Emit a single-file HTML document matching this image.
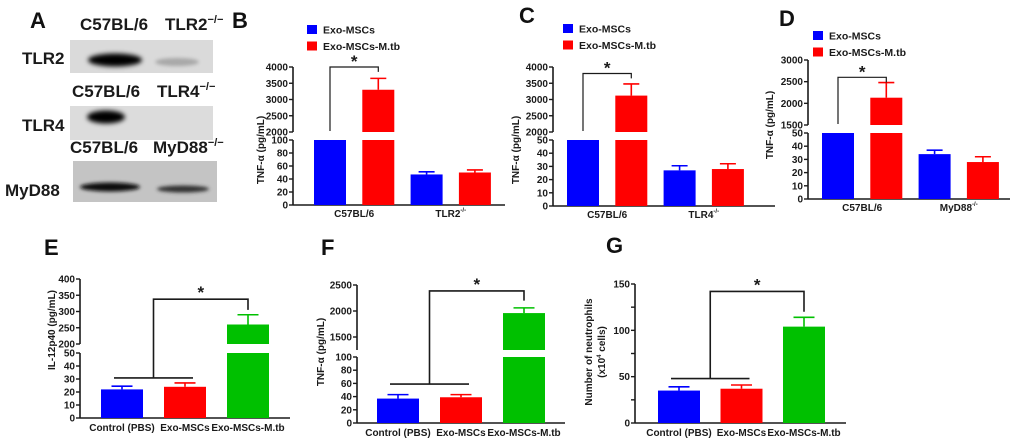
<!DOCTYPE html>
<html><head><meta charset="utf-8"><style>
html,body{margin:0;padding:0;background:#fff;}
svg{display:block;font-family:"Liberation Sans",Arial,sans-serif;}
.tk{font-size:10px;font-weight:bold;fill:#1a1a1a;}
.lg{font-size:10.5px;font-weight:bold;fill:#1a1a1a;}
.pl{font-size:22px;font-weight:bold;fill:#111;}
.bl{font-size:17px;font-weight:bold;fill:#1a1a1a;}
</style></head><body>
<svg id="fig" width="1020" height="446" viewBox="0 0 1020 446" xmlns="http://www.w3.org/2000/svg">
<defs>
<filter id="blur3" x="-30%" y="-80%" width="160%" height="260%"><feGaussianBlur stdDeviation="2.5"/></filter>
<filter id="blur2" x="-30%" y="-80%" width="160%" height="260%"><feGaussianBlur stdDeviation="1.8"/></filter>
</defs>
<g>
<text class="pl" x="30" y="28">A</text>
<text class="bl" x="80" y="30">C57BL/6</text>
<text class="bl" x="165" y="30">TLR2<tspan font-size="11" dy="-7">−/−</tspan></text>
<text class="bl" x="22" y="64">TLR2</text>
<rect x="70" y="40" width="143" height="33" fill="#dadada"/>
<ellipse cx="115" cy="60" rx="27" ry="6.5" fill="#000" filter="url(#blur3)"/>
<ellipse cx="177" cy="62" rx="22" ry="4" fill="#a8a8a8" filter="url(#blur2)"/>
<text class="bl" x="72" y="97">C57BL/6</text>
<text class="bl" x="157" y="97">TLR4<tspan font-size="11" dy="-7">−/−</tspan></text>
<text class="bl" x="22" y="131">TLR4</text>
<rect x="70" y="106" width="143" height="34" fill="#dcdcdc"/>
<ellipse cx="106" cy="117" rx="19" ry="6.5" fill="#000" filter="url(#blur3)"/>
<text class="bl" x="70" y="153">C57BL/6</text>
<text class="bl" x="153" y="153">MyD88<tspan font-size="11" dy="-7">−/−</tspan></text>
<text class="bl" x="5" y="196">MyD88</text>
<rect x="73" y="161" width="144" height="41" fill="#c4c4c4"/>
<ellipse cx="110" cy="187" rx="30" ry="4.5" fill="#111" filter="url(#blur2)"/>
<ellipse cx="183" cy="189" rx="26" ry="3.5" fill="#333" filter="url(#blur2)"/>
</g>
</svg>
<script>
// ---- data ----
const bCats=['C57BL/6','TLR2'];
const bExo=[1000,47];
const bExoErr=[0,4];
const bMtb=[3300,50];
const bMtbErr=[350,4];
const bBracket=[4000,3850];

const cCats=['C57BL/6','TLR4'];
const cExo=[1000,27];
const cExoErr=[0,3.5];
const cMtb=[3120,28];
const cMtbErr=[360,4];
const cBracket=[3800,3650];

const dCats=['C57BL/6','MyD88'];
const dExo=[1000,34];
const dExoErr=[0,3];
const dMtb=[2130,28];
const dMtbErr=[350,4];
const dBracket=[2600,2480];

const triCats=['Control (PBS)','Exo-MSCs','Exo-MSCs-M.tb'];
const eVals=[22,24,260];
const eErr=[2.5,3,30];
const eBracket=[30.8,338,305];
const fVals=[37,39,1960];
const fErr=[6,4,100];
const fBracket=[59,2385,2200];
const gVals=[35,37,104];
const gErr=[4,4,10];
const gBracket=[48,142,120];

const NS='http://www.w3.org/2000/svg';
const fig=document.getElementById('fig');
function mk(tag,attrs,parent){const e=document.createElementNS(NS,tag);for(const k in attrs)e.setAttribute(k,attrs[k]);(parent||fig).appendChild(e);return e;}
const BLUE='#0000ff',RED='#ff0000',GREEN='#00c000',INK='#1a1a1a';

function makeScale(seg){return v=>seg.y0+(v-seg.d0)*(seg.y1-seg.y0)/(seg.d1-seg.d0);}

function drawAxis(g,o){
  const segs=[o.lower].concat(o.upper?[o.upper]:[]);
  segs.forEach(s=>{
    const sc=makeScale(s);
    const ln=mk('line',{x1:o.ax,x2:o.ax,y1:s.y0,y2:s.y1,stroke:INK,'stroke-width':1.6},g);
    
    
    s.ticks.forEach((t,i)=>{
      const y=sc(t);
      const tl=mk('line',{x1:o.ax-4,x2:o.ax,y1:y,y2:y,stroke:INK,'stroke-width':1.4},g);
      
      
      if(!s.labelEvery||i%s.labelEvery===0){
        const tx=mk('text',{x:o.ax-5,y:y+3.5,'text-anchor':'end',class:'tk'},g);
        tx.textContent=t;
        
        
      }
    });
  });
  const xa=mk('line',{x1:o.ax,x2:o.xEnd,y1:o.lower.y0,y2:o.lower.y0,stroke:INK,'stroke-width':1.6},g);
  
  
  const yl=mk('text',{transform:`translate(${o.ylx},${o.yly}) rotate(-90)`,'text-anchor':'middle',class:'tk'},g);
  
  
  yl.textContent=o.ytitle;
  if(o.ytitle2){
    const yl2=mk('text',{transform:`translate(${o.ylx+13},${o.yly}) rotate(-90)`,'text-anchor':'middle',class:'tk'},g);
    
    
    yl2.innerHTML=o.ytitle2;
  }
}

function drawBar(g,o,x,w,v,err,color,name){
  const lo=makeScale(o.lower);
  const lv=Math.min(v,o.lower.d1);
  const r=mk('rect',{x:x,y:lo(lv),width:w,height:lo(0)-lo(lv),fill:color},g);
  
  
  let topY=lo(lv);
  if(o.upper&&v>o.upper.d0){
    const up=makeScale(o.upper);
    const r2=mk('rect',{x:x,y:up(v),width:w,height:up(o.upper.d0)-up(v),fill:color},g);
    
    
    topY=up(v);
  }
  if(err>0){
    const sc=(o.upper&&v>o.upper.d0)?makeScale(o.upper):lo;
    const ey=sc(v+err), cx=x+w/2;
    const e1=mk('line',{x1:cx,x2:cx,y1:topY,y2:ey,stroke:color,'stroke-width':1.6},g);
    
    
    const e2=mk('line',{x1:cx-w/4,x2:cx+w/4,y1:ey,y2:ey,stroke:color,'stroke-width':1.6},g);
    
    
  }
}

function catLabel(g,x,y,txt,sup){
  const t=mk('text',{x:x,y:y,'text-anchor':'middle',class:'tk'},g);
  
  
  t.textContent=txt;
  if(sup){const s=mk('tspan',{'font-size':6,dy:-5},t);s.textContent='-/-';}
}

function star(g,x,y){
  const s=mk('text',{x:x,y:y+2,'text-anchor':'middle','font-size':17,'font-weight':'bold',fill:INK},g);
  
  
  s.textContent='*';
}

function legend(g,x,y){
  [['Exo-MSCs',BLUE],['Exo-MSCs-M.tb',RED]].forEach((l,i)=>{
    const r=mk('rect',{x:x,y:y+i*16.5,width:10,height:9,fill:l[1]},g);
    
    
    const t=mk('text',{x:x+16,y:y+i*16.5+8.5,class:'lg'},g);
    
    
    t.textContent=l[0];
  });
}

function grouped(name,letter,lx,ly,o,cats,exo,exoE,mtb,mtbE,br,legXY){
  const g=mk('g',{});
  
  
  const L=mk('text',{x:lx,y:ly,class:'pl'},g);
  
  
  L.textContent=letter;
  legend(g,legXY[0],legXY[1]);
  drawAxis(g,o);
  const step=48.3,w=32;
  cats.forEach((c,i)=>{
    const xb=o.x0+i*2*step, xr=xb+step;
    drawBar(g,o,xb,w,exo[i],exoE[i],BLUE,'bar-exo-'+i);
    drawBar(g,o,xr,w,mtb[i],mtbE[i],RED,'bar-mtb-'+i);
    catLabel(g,xb+(w+step)/2,o.lower.y0+12,c,i>0);
  });
  const up=makeScale(o.upper);
  const xa=o.x0+w/2, xbR=o.x0+step+w/2, yt=up(br[0]);
  const p=mk('path',{d:`M${xa},${o.upper.y0-1} V${yt} H${xbR} V${up(br[1])}`,fill:'none',stroke:INK,'stroke-width':1.2},g);
  
  
  star(g,(xa+xbR)/2,yt-2);
}

grouped('panel-b','B',232,28,{ax:293,xEnd:505,x0:314,lower:{d0:0,d1:100,y0:205,y1:140,ticks:[0,20,40,60,80,100]},upper:{d0:2000,d1:4000,y0:132,y1:67,ticks:[2000,2500,3000,3500,4000]},ylx:264,yly:150,ytitle:'TNF-α (pg/mL)'},bCats,bExo,bExoErr,bMtb,bMtbErr,bBracket,[307,25]);
grouped('panel-c','C',519,23,{ax:553,xEnd:775,x0:567,lower:{d0:0,d1:50,y0:206,y1:140,ticks:[0,10,20,30,40,50]},upper:{d0:2000,d1:4000,y0:132,y1:67,ticks:[2000,2500,3000,3500,4000]},ylx:519,yly:150,ytitle:'TNF-α (pg/mL)'},cCats,cExo,cExoErr,cMtb,cMtbErr,cBracket,[563,24]);
grouped('panel-d','D',779,26,{ax:808,xEnd:1010,x0:822,lower:{d0:0,d1:50,y0:199,y1:133,ticks:[0,10,20,30,40,50]},upper:{d0:1500,d1:3000,y0:125,y1:60,ticks:[1500,2000,2500,3000]},ylx:773,yly:125,ytitle:'TNF-α (pg/mL)'},dCats,dExo,dExoErr,dMtb,dMtbErr,dBracket,[813,31]);

function triple(name,letter,lx,ly,o,vals,errs,br,step){
  const g=mk('g',{});
  
  
  const L=mk('text',{x:lx,y:ly,class:'pl'},g);
  
  
  L.textContent=letter;
  drawAxis(g,o);
  const w=42, cols=[BLUE,RED,GREEN];
  const lo=makeScale(o.lower);
  const upS=o.upper?makeScale(o.upper):lo;
  vals.forEach((v,i)=>{
    const x=o.x0+i*step;
    drawBar(g,o,x,w,v,errs[i],cols[i],'bar-'+i);
    catLabel(g,x+w/2,o.lower.y0+13,triCats[i],false);
  });
  const c0=o.x0+w/2, c1=o.x0+step+w/2, c2=o.x0+2*step+w/2;
  const gy=lo(br[0]), mid=(c0+c1)/2, ty=upS(br[1]);
  const h=mk('line',{x1:c0-8,x2:c1+8,y1:gy,y2:gy,stroke:INK,'stroke-width':1.6},g);
  
  
  const p=mk('path',{d:`M${mid},${gy} V${ty} H${c2} V${upS(br[2])}`,fill:'none',stroke:INK,'stroke-width':1.6},g);
  
  
  star(g,(mid+c2)/2,ty-3);
}

triple('panel-e','E',44,255,{ax:80,xEnd:290,x0:101,lower:{d0:0,d1:50,y0:418,y1:353,ticks:[0,10,20,30,40,50]},upper:{d0:200,d1:400,y0:344,y1:279,ticks:[200,250,300,350,400]},ylx:55,yly:330,ytitle:'IL-12p40 (pg/mL)'},eVals,eErr,eBracket,63);
triple('panel-f','F',321,255,{ax:357,xEnd:565,x0:377,lower:{d0:0,d1:100,y0:423,y1:357,ticks:[0,20,40,60,80,100]},upper:{d0:1250,d1:2500,y0:350,y1:285,ticks:[1500,2000,2500]},ylx:324,yly:352,ytitle:'TNF-α (pg/mL)'},fVals,fErr,fBracket,63);
triple('panel-g','G',606,253,{ax:635,xEnd:846,x0:658,lower:{d0:0,d1:150,y0:423,y1:284,ticks:[0,25,50,75,100,125,150],labelEvery:2},ylx:592,yly:352,ytitle:'Number of neutrophils',ytitle2:'(x10<tspan font-size="6" dy="-4">4</tspan><tspan dy="4"> cells)</tspan>'},gVals,gErr,gBracket,62.5);
</script>
</body></html>
